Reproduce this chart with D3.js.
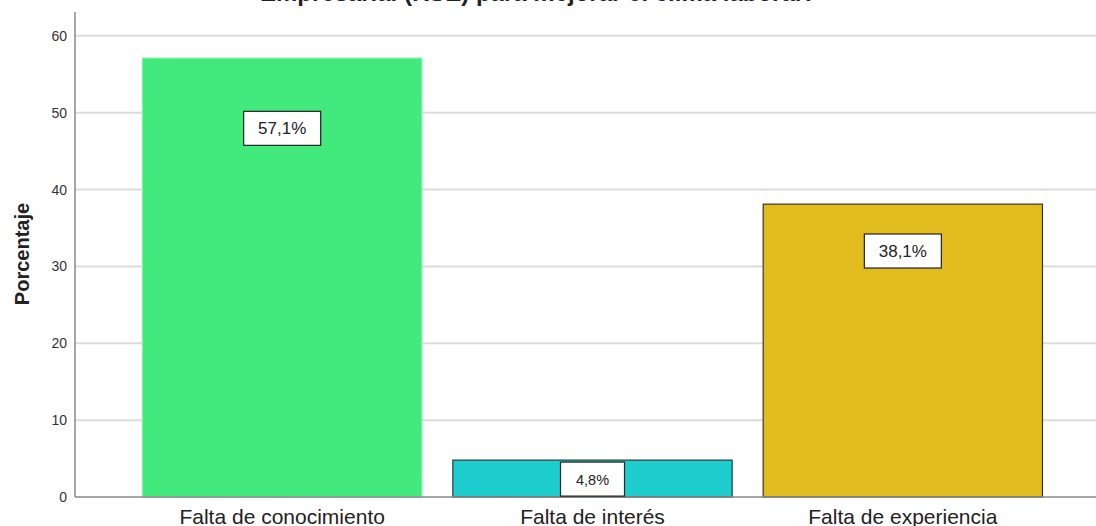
<!DOCTYPE html>
<html>
<head>
<meta charset="utf-8">
<script src="https://cdn.jsdelivr.net/npm/d3@7/dist/d3.min.js"></script>
<style>
html,body{margin:0;padding:0;background:#fff;}
svg{display:block;font-family:"Liberation Sans",Arial,sans-serif;}
</style>
</head>
<body>
<svg id="chart" width="1096" height="526"></svg>
<script>
const title = "Empresarial (RSE) para mejorar el clima laboral?";
const categories = ["Falta de conocimiento", "Falta de interés", "Falta de experiencia"];
const values = [57.1, 4.8, 38.1];
const valueLabels = ["57,1%", "4,8%", "38,1%"];
const barColors = ["#42EA7E", "#1ECECE", "#E0BC1E"];
const barStrokes = ["#7DF0A4", "#2A3A3A", "#3A3520"];
const yTicks = [0, 10, 20, 30, 40, 50, 60];

const svg = d3.select("#chart");
const W = 1096, H = 526;
const x0 = 75, yBottom = 497;

const y = d3.scaleLinear().domain([0, 63.1]).range([yBottom, 12]);
const x = d3.scaleBand().domain(categories).range([127, 1058]).paddingInner(0.1).paddingOuter(0.05);

// title (cut at top)
svg.append("text").attr("x", 538).attr("y", 1).attr("text-anchor", "middle")
  .attr("font-weight", "bold").attr("font-size", 24).attr("fill", "#222").text(title);

// gridlines
svg.append("g").selectAll("line").data(yTicks.filter(d => d > 0)).join("line")
  .attr("x1", x0).attr("x2", W).attr("y1", d => y(d)).attr("y2", d => y(d))
  .attr("stroke", "#dcdcdc").attr("stroke-width", 2);

// y axis
const yAxis = d3.axisLeft(y).tickValues(yTicks).tickSize(0).tickPadding(8);
const gy = svg.append("g").attr("transform", `translate(${x0},0)`).call(yAxis);
gy.attr("font-size", 14);
gy.select(".domain").remove();
gy.selectAll("text").attr("font-size", 14).attr("fill", "#333").attr("font-family", "Liberation Sans, Arial, sans-serif");

// bars
svg.append("g").selectAll("rect").data(categories).join("rect")
  .attr("x", d => x(d)).attr("width", x.bandwidth())
  .attr("y", (d, i) => y(values[i])).attr("height", (d, i) => y(0) - y(values[i]))
  .attr("fill", (d, i) => barColors[i]).attr("stroke", (d, i) => barStrokes[i]).attr("stroke-width", 1.2);

// axis lines
svg.append("line").attr("x1", x0).attr("x2", x0).attr("y1", 12).attr("y2", yBottom)
  .attr("stroke", "#8a8a8a").attr("stroke-width", 1.5);
svg.append("line").attr("x1", x0).attr("x2", W).attr("y1", yBottom).attr("y2", yBottom)
  .attr("stroke", "#8a8a8a").attr("stroke-width", 1.5);

// value labels
const boxW = [77, 64, 77], boxH = 34;
const lg = svg.append("g");
categories.forEach((c, i) => {
  const top = y(values[i]);
  const h = y(0) - top;
  const cy = Math.max(top + 0.16 * h, top + 19);
  const cx = x(c) + x.bandwidth() / 2;
  lg.append("rect").attr("x", cx - boxW[i] / 2).attr("y", cy - boxH / 2)
    .attr("width", boxW[i]).attr("height", boxH)
    .attr("fill", "#fff").attr("stroke", "#222").attr("stroke-width", 1.2);
  lg.append("text").attr("x", cx).attr("y", cy + 6).attr("text-anchor", "middle")
    .attr("font-size", i === 1 ? 14.5 : 17).attr("fill", "#222").text(valueLabels[i]);
});

// x category labels
const xAxis = d3.axisBottom(x).tickSize(0);
const gx = svg.append("g").attr("transform", `translate(0,${yBottom})`).call(xAxis);
gx.attr("font-size", 21);
gx.select(".domain").remove();
gx.selectAll("text").attr("y", 27).attr("dy", 0).attr("font-size", 21).attr("fill", "#222")
  .attr("font-family", "Liberation Sans, Arial, sans-serif");

// y axis title
svg.append("text").attr("transform", "translate(29,254) rotate(-90)").attr("text-anchor", "middle")
  .attr("font-weight", "bold").attr("font-size", 20).attr("fill", "#222").text("Porcentaje");
</script>
</body>
</html>
